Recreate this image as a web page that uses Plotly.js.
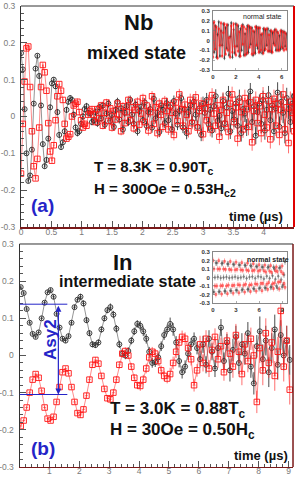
<!DOCTYPE html>
<html><head><meta charset="utf-8">
<script src="https://cdn.plot.ly/plotly-3.0.1.min.js"></script>
<style>html,body{margin:0;padding:0;background:#fff}#chart{width:300px;height:477px}</style>
</head><body><div id="chart"></div>
<script>
// ---------- Panel (a): Nb mixed state, asymmetry vs time (bins of 0.03 us from 0) ----------
const nbT0 = 0, nbBin = 0.03;
const nbBlack = [
 0.172,0.128,0.02,-0.1,-0.175,-0.16,-0.09,0.035,0.13,0.165,
 0.11,0.03,-0.075,-0.135,-0.118,-0.06,0.025,0.09,0.1,0.082,
 0.012,-0.05,-0.083,-0.07,-0.04,0.018,0.04,0.05,0.045,0.005,
 -0.03,-0.045,-0.04,-0.02,0.0,0.02,0.028,0.01,0.008,-0.015,
 -0.01,
 0.012,-0.018,0.025,-0.005,0.03,-0.022,0.008,0.035,-0.012,0.004,
 -0.028,0.018,0.04,-0.008,0.022,-0.035,0.01,0.028,-0.015,0.045,
 0.005,-0.02,0.032,-0.04,0.015,0.026,-0.01,0.038,-0.025,0.012,
 0.02,-0.03,0.048,-0.005,0.01,-0.042,0.03,0.018,-0.018,0.036,
 -0.01,0.025,-0.035,0.042,0.008,-0.022,0.015,0.05,-0.03,0.02,
 -0.045,0.012,0.03,-0.015,0.04,0.005,-0.028,0.022,-0.05,0.035,
 0.01,0.045,-0.02,0.018,-0.038,0.028,0.055,-0.012,0.002,-0.032,
 0.042,-0.018,0.025,0.062,-0.04,0.015,-0.008,0.035,-0.025,0.05,
 -0.045,0.02,0.008,-0.03,0.04,0.068,-0.015,0.028,-0.052,0.012,
 0.035,-0.02,0.045,-0.038,0.018,0.058,-0.01,0.03,-0.04,0.022,
 0.065,-0.028,0.04,0.01,-0.045,0.05,0.02,-0.015,0.035,0.055];
const nbRed = [
 -0.155,-0.02,0.095,0.185,0.19,0.08,-0.04,-0.135,-0.168,-0.115,
 -0.03,0.08,0.14,0.12,0.07,-0.018,-0.095,-0.12,-0.078,-0.01,
 0.055,0.088,0.07,0.045,-0.02,-0.06,-0.055,-0.048,0.0,0.03,
 0.035,0.04,0.012,-0.01,-0.03,-0.02,-0.025,0.005,0.015,0.02,
 0.005,
 -0.015,0.02,-0.005,0.03,-0.025,0.01,0.038,-0.012,0.022,-0.03,
 0.015,-0.008,0.035,0.005,-0.04,0.028,-0.018,0.012,0.045,-0.01,
 0.025,-0.032,0.018,0.04,-0.022,0.008,0.05,-0.015,0.03,-0.038,
 0.012,0.055,-0.02,0.025,-0.045,0.035,0.005,-0.028,0.042,0.015,
 -0.035,0.03,0.01,-0.05,0.038,-0.012,0.06,0.02,-0.025,0.032,
 0.005,-0.04,0.045,-0.018,0.028,0.052,-0.03,0.015,0.035,-0.048,
 0.022,-0.01,0.04,-0.035,0.058,0.008,-0.025,0.03,-0.055,0.018,
 0.045,-0.02,0.01,-0.042,0.035,0.06,-0.015,0.025,-0.06,0.04,
 0.012,-0.035,0.05,0.02,-0.028,0.038,-0.07,0.015,0.045,-0.018,
 0.028,-0.045,0.055,0.005,-0.03,0.042,-0.062,0.02,0.048,-0.025,
 0.035,-0.05,0.018,0.06,-0.035,0.025,-0.072,0.04,0.01,-0.04];
const nbErr = [
 0.006,0.006,0.006,0.006,0.006,0.006,0.006,0.006,0.006,0.006,
 0.007,0.007,0.007,0.007,0.007,0.007,0.007,0.007,0.007,0.007,
 0.008,0.008,0.008,0.008,0.008,0.008,0.008,0.008,0.008,0.008,
 0.009,0.009,0.009,0.009,0.009,0.009,0.009,0.009,0.009,0.009,
 0.010,0.010,0.010,0.010,0.010,0.010,0.010,0.010,0.010,0.010,
 0.011,0.011,0.011,0.011,0.011,0.011,0.011,0.011,0.011,0.011,
 0.012,0.012,0.012,0.012,0.012,0.012,0.012,0.012,0.012,0.012,
 0.014,0.014,0.014,0.014,0.014,0.014,0.014,0.014,0.014,0.014,
 0.015,0.015,0.015,0.015,0.015,0.015,0.015,0.015,0.015,0.015,
 0.017,0.017,0.017,0.017,0.017,0.017,0.017,0.017,0.017,0.017,
 0.019,0.019,0.019,0.019,0.019,0.019,0.019,0.019,0.019,0.019,
 0.021,0.021,0.021,0.021,0.021,0.021,0.021,0.021,0.021,0.021,
 0.023,0.023,0.023,0.023,0.023,0.023,0.023,0.023,0.023,0.023,
 0.025,0.025,0.025,0.025,0.025,0.025,0.025,0.025,0.025,0.025,
 0.028,0.028,0.028,0.028,0.028,0.028,0.028,0.028,0.028,0.028,0.028];

// ---------- Panel (b): In intermediate state (bins of 0.1 us from 0.04) ----------
const inT0 = 0.04, inBin = 0.1;
const inBlack = [
 0.184,0.168,0.125,0.088,0.058,0.05,0.062,0.1,0.142,0.17,
 0.176,0.158,0.112,0.075,0.045,0.04,0.052,0.088,0.13,0.15,
 0.158,0.14,0.095,0.06,0.03,0.028,0.035,0.07,0.1,0.122,
 0.13,0.11,0.072,0.03,0.005,0.0,0.012,0.04,0.065,0.085,
 0.08,0.065,0.045,0.01,-0.02,-0.018,-0.005,0.025,0.055,0.07,
 0.085,0.07,0.035,-0.015,-0.045,-0.03,0.005,0.03,0.045,0.02,
 -0.01,0.03,-0.025,0.045,0.01,-0.035,0.02,0.075,-0.015,0.035,
 -0.04,0.015,0.05,-0.02,0.03,0.005,0.06,-0.03,-0.075,0.025,
 0.065,-0.01,0.04,-0.045,0.02,0.07,-0.025,0.055,0.0,0.04,-0.012];
const inRed = [
 -0.19,-0.175,-0.14,-0.1,-0.065,-0.05,-0.06,-0.095,-0.14,-0.17,
 -0.175,-0.165,-0.125,-0.085,-0.045,-0.035,-0.048,-0.085,-0.125,-0.155,
 -0.16,-0.145,-0.108,-0.065,-0.025,-0.012,-0.022,-0.055,-0.09,-0.115,
 -0.118,-0.1,-0.065,-0.025,0.005,0.012,0.0,-0.03,-0.06,-0.08,
 -0.082,-0.065,-0.035,-0.005,0.01,0.005,-0.015,-0.04,-0.055,-0.062,
 -0.05,-0.02,0.01,0.035,0.05,0.045,0.02,-0.01,-0.08,-0.04,
 0.03,-0.02,0.045,-0.035,0.015,0.05,-0.01,0.025,-0.045,0.04,
 0.005,-0.03,0.055,0.01,-0.05,0.03,-0.015,0.045,0.0,-0.125,
 0.02,-0.04,0.06,-0.02,0.035,-0.055,0.01,0.12,-0.03,0.04,-0.092];
const inErr = [
 0.005,0.005,0.005,0.005,0.005,0.005,0.005,0.005,0.005,0.005,
 0.006,0.006,0.006,0.006,0.006,0.006,0.006,0.006,0.006,0.006,
 0.008,0.008,0.008,0.008,0.008,0.008,0.008,0.008,0.008,0.008,
 0.010,0.010,0.010,0.010,0.010,0.010,0.010,0.010,0.010,0.010,
 0.013,0.013,0.013,0.013,0.013,0.013,0.013,0.013,0.013,0.013,
 0.017,0.017,0.017,0.017,0.017,0.017,0.017,0.017,0.017,0.017,
 0.023,0.023,0.023,0.023,0.023,0.023,0.023,0.023,0.023,0.023,
 0.030,0.030,0.030,0.030,0.030,0.030,0.030,0.030,0.030,0.030,
 0.040,0.040,0.040,0.040,0.040,0.040,0.040,0.040,0.040,0.040,0.040];

// ---------- Inset (a): Nb normal state (bins 0.1 us) ----------
const nbNormT0 = 0, nbNormBin = 0.1, nbNormErr = 0.02;
const nbNormBlack = [
 0.18,-0.12,0.15,-0.17,0.06,0.19,-0.16,0.1,-0.05,0.17,
 -0.18,0.13,-0.08,0.16,-0.15,0.04,0.18,-0.17,0.11,-0.13,
 0.17,-0.06,0.15,-0.16,0.12,-0.1,0.16,-0.15,0.07,-0.14,
 0.15,-0.12,0.14,-0.04,0.13,-0.15,0.09,-0.13,0.14,-0.08,
 0.13,-0.12,0.06,-0.13,0.12,-0.1,0.11,-0.05,0.12,-0.11,
 0.1,-0.12,0.08,-0.03,0.11,-0.1,0.09,-0.1,0.05,-0.09,
 0.1,-0.08,0.09,-0.06,0.07,-0.09];
const nbNormRed = [
 -0.17,0.19,-0.09,0.14,-0.18,0.12,-0.05,0.18,-0.16,0.08,
 0.17,-0.14,0.16,-0.1,0.03,-0.17,0.15,-0.12,0.17,-0.06,
 -0.15,0.16,-0.11,0.09,-0.16,0.15,-0.04,0.14,-0.15,0.12,
 -0.13,0.15,-0.07,0.13,-0.14,0.1,-0.13,0.14,-0.05,0.13,
 -0.12,0.13,-0.1,0.07,-0.13,0.12,-0.09,0.12,-0.11,0.06,
 -0.11,0.1,-0.12,0.09,-0.05,0.11,-0.1,0.08,-0.1,0.1,
 -0.07,0.09,-0.1,0.08,-0.09,0.06];

// ---------- Inset (b): In normal state (bins 0.125 us) ----------
const inNormT0 = 0, inNormBin = 0.125, inNormErr = 0.035;
const inNormRed = [
 0.2,0.1,-0.1,-0.2,-0.1,0.1,
 0.198,0.1,-0.098,-0.195,-0.095,0.1,
 0.19,0.095,-0.1,-0.19,-0.09,0.095,
 0.188,0.09,-0.095,-0.185,-0.092,0.09,
 0.18,0.095,-0.085,-0.18,-0.09,0.09,
 0.175,0.085,-0.09,-0.172,-0.08,0.088,
 0.17,0.08,-0.09,-0.165,-0.085,0.08,
 0.162,0.085,-0.075,-0.16,-0.08,0.075,
 0.15,0.085,-0.07,-0.155,-0.07,0.08,
 0.145,0.065,-0.08,-0.14,-0.06,0.075,
 0.14,0.06,-0.075,-0.13,-0.065,0.08,
 0.125,0.07,-0.055,-0.135,-0.05,0.07,
 0.135,0.045,-0.07,-0.115];
const inNormBlack = [
 -0.17,-0.17,0.0,0.172,0.17,0.005,
 -0.168,-0.165,-0.005,0.165,0.168,0.0,
 -0.16,-0.162,0.005,0.16,0.158,-0.005,
 -0.155,-0.158,0.0,0.155,0.152,0.008,
 -0.15,-0.152,-0.005,0.15,0.145,0.0,
 -0.148,-0.14,0.01,0.145,0.14,-0.01,
 -0.14,-0.138,0.005,0.14,0.132,0.01,
 -0.13,-0.135,-0.01,0.13,0.128,0.012,
 -0.13,-0.12,0.005,0.125,0.12,-0.015,
 -0.12,-0.125,0.015,0.118,0.125,-0.01,
 -0.115,-0.11,0.02,0.12,0.105,-0.02,
 -0.1,-0.12,0.015,0.11,0.118,-0.025,
 -0.11,-0.09,0.03,0.185];

// ---------- Axis tick labels ----------
const yTickVals = [-0.3,-0.2,-0.1,0,0.1,0.2,0.3];
const yTickText = ['-0.3','-0.2','-0.1','0','0.1','0.2','0.3'];
const xTickValsA = [0,0.5,1,1.5,2,2.5,3,3.5,4,4.5];
const xTickTextA = ['0','0.5','1','1.5','2','2.5','3','3.5','4','4.5'];
const xTickValsB = [1,2,3,4,5,6,7,8,9];
const xTickTextB = ['1','2','3','4','5','6','7','8','9'];
const xTickValsIA = [0,2,4,6];
const xTickValsIB = [0,3,6,9];

// Asy2 marker levels in panel (b)
const asyLevels = [0.138, -0.105];
const asyLineEnd = 1.6;
const asyArrowX = 1.3;

// ---------- Build ----------
const FONT = 'Liberation Sans, Arial, sans-serif';
const BLACK = '#2a2a2a', RED = '#ff1414', BLUE = '#2424c8';

function series(y, x0, dx, err, color, errColor, symbol, size, xa, ya, lw, mlw) {
  return {
    type: 'scatter', mode: lw > 0 ? 'lines+markers' : 'markers', x0: x0, dx: dx, y: y,
    xaxis: xa, yaxis: ya, hoverinfo: 'skip',
    line: {color: color, width: lw},
    marker: {symbol: symbol, size: size, color: color, line: {width: mlw, color: color}},
    error_y: Array.isArray(err)
      ? {type: 'data', array: err, color: errColor, thickness: 1, width: 0}
      : {type: 'constant', value: err, color: errColor, thickness: 0.7, width: 0},
    error_x: {type: 'constant', value: dx / 2, color: errColor, thickness: 0.8, width: 0}
  };
}

const data = [
  series(nbBlack, nbT0, nbBin, nbErr, BLACK, 'rgba(30,30,30,0.8)', 'circle-open', 5, 'x', 'y', 0.5, 0.9),
  series(nbRed, nbT0, nbBin, nbErr, RED, 'rgba(255,50,50,0.7)', 'square-open', 5.5, 'x', 'y', 0.5, 0.9),
  series(inBlack, inT0, inBin, inErr, BLACK, 'rgba(30,30,30,0.8)', 'circle-open', 5, 'x2', 'y2', 0.5, 0.9),
  series(inRed, inT0, inBin, inErr, RED, 'rgba(255,50,50,0.7)', 'square-open', 5.5, 'x2', 'y2', 0.5, 0.9),
  series(nbNormBlack, nbNormT0, nbNormBin, nbNormErr, '#333', 'rgba(40,40,40,0.7)', 'circle-open', 1.5, 'x3', 'y3', 0.6, 0.5),
  series(nbNormRed, nbNormT0, nbNormBin, nbNormErr, RED, 'rgba(255,40,40,0.7)', 'square-open', 1.5, 'x3', 'y3', 0.6, 0.5),
  series(inNormBlack, inNormT0, inNormBin, inNormErr, '#444', 'rgba(60,60,60,0.6)', 'circle-open', 1.8, 'x4', 'y4', 0, 0.5),
  series(inNormRed, inNormT0, inNormBin, inNormErr, RED, 'rgba(255,60,60,0.65)', 'square-open', 1.8, 'x4', 'y4', 0, 0.5)
];

const tickFont = {family: FONT, size: 8.5, color: '#7a7a7a'};
const insetFont = {family: FONT, size: 6, color: '#333', weight: 'bold'};
function mainAx(extra) {
  return Object.assign({showgrid: false, zeroline: false, showline: true, ticks: 'inside',
    ticklen: 6, tickwidth: 1, tickcolor: '#555', linecolor: '#333', linewidth: 1,
    tickfont: tickFont, tickmode: 'array', fixedrange: true, ticklabelstandoff: 1}, extra);
}
function insetAx(extra) {
  return Object.assign({showgrid: false, zeroline: false, showline: true, mirror: true, ticks: 'inside',
    ticklen: 2, tickwidth: 0.6, tickcolor: '#777', linecolor: '#888', linewidth: 1,
    tickfont: insetFont, tickmode: 'array', fixedrange: true, ticklabelstandoff: 1}, extra);
}
// paper position from pixel position, with explicit anchors
const P = (px, py, xa) => ({x: px / 300, y: 1 - py / 477, xref: 'paper', yref: 'paper',
  xanchor: xa || 'center', yanchor: 'middle', showarrow: false});
const tf = (size, color, bold) => ({family: FONT, size: size, color: color, weight: bold ? 'bold' : 'normal'});

const layout = {
  width: 300, height: 477, margin: {l: 0, r: 0, t: 0, b: 0},
  paper_bgcolor: '#fff', plot_bgcolor: '#fff', showlegend: false,
  xaxis: mainAx({domain: [0.07, 0.98], range: [0, 4.5], anchor: 'y', tickvals: xTickValsA, ticktext: xTickTextA, ticklabelstandoff: -4,
    minor: {dtick: 0.1, tick0: 0, ticks: 'inside', ticklen: 3, tickcolor: '#555'}, linecolor: '#7a1818', linewidth: 1.5}),
  yaxis: mainAx({domain: [0.5241, 0.9874], range: [-0.3, 0.3], anchor: 'x', tickvals: yTickVals, ticktext: yTickText, ticklabelstandoff: 3,
    minor: {dtick: 0.02, tick0: 0, ticks: 'inside', ticklen: 3, tickcolor: '#555'}}),
  xaxis2: mainAx({domain: [0.065, 0.9767], range: [0, 9.15], anchor: 'y2', tickvals: xTickValsB, ticktext: xTickTextB, ticklabelstandoff: -5,
    minor: {dtick: 0.2, tick0: 0, ticks: 'inside', ticklen: 3, tickcolor: '#555'}, linecolor: '#7a1818', linewidth: 1.5}),
  yaxis2: mainAx({domain: [0.021, 0.4885], range: [-0.3, 0.3], anchor: 'x2', tickvals: yTickVals, ticktext: yTickText, ticklabelstandoff: 3,
    minor: {dtick: 0.02, tick0: 0, ticks: 'inside', ticklen: 3, tickcolor: '#555'}}),
  xaxis3: insetAx({domain: [0.71, 0.958], range: [0, 6.5], anchor: 'y3', tickvals: xTickValsIA, ticktext: xTickValsIA.map(String)}),
  yaxis3: insetAx({domain: [0.8532, 0.9769], range: [-0.3, 0.3], anchor: 'x3', tickvals: yTickVals, ticktext: yTickText}),
  xaxis4: insetAx({domain: [0.71, 0.957], range: [0, 9.65], anchor: 'y4', tickvals: xTickValsIB, ticktext: xTickValsIB.map(String)}),
  yaxis4: insetAx({domain: [0.3648, 0.4717], range: [-0.3, 0.3], anchor: 'x4', tickvals: yTickVals, ticktext: yTickText}),
  shapes: [
    {type: 'line', xref: 'x domain', yref: 'y domain', x0: 0, x1: 1, y0: 1, y1: 1, line: {color: '#333', width: 1}},
    {type: 'line', xref: 'x domain', yref: 'y domain', x0: 1, x1: 1, y0: 0, y1: 1, line: {color: '#e00000', width: 2}},
    {type: 'line', xref: 'x2 domain', yref: 'y2 domain', x0: 0, x1: 1, y0: 1, y1: 1, line: {color: '#333', width: 1}},
    {type: 'line', xref: 'x2 domain', yref: 'y2 domain', x0: 1, x1: 1, y0: 0, y1: 1, line: {color: '#7a1818', width: 1.5}},
    {type: 'line', xref: 'x2', yref: 'y2', x0: 0, x1: asyLineEnd, y0: asyLevels[0], y1: asyLevels[0], line: {color: BLUE, width: 1}},
    {type: 'line', xref: 'x2', yref: 'y2', x0: 0, x1: asyLineEnd, y0: asyLevels[1], y1: asyLevels[1], line: {color: BLUE, width: 1}}
  ],
  annotations: [
    Object.assign(P(138, 23), {text: 'Nb', font: tf(22, '#111', true)}),
    Object.assign(P(136, 53), {text: 'mixed state', font: tf(18, '#111', true)}),
    Object.assign(P(92, 168, 'left'), {text: 'T = 8.3K = 0.90T<sub>c</sub>', font: tf(15, '#111', true)}),
    Object.assign(P(92, 189, 'left'), {text: 'H = 300Oe = 0.53H<sub>c2</sub>', font: tf(15, '#111', true)}),
    Object.assign(P(42, 205), {text: '(a)', font: tf(19, BLUE, true)}),
    Object.assign(P(256, 216), {text: 'time (µs)', font: tf(13, '#111', true)}),
    Object.assign(P(123, 262), {text: 'In', font: tf(22, '#111', true)}),
    Object.assign(P(127, 281), {text: 'intermediate state', font: tf(16, '#111', true)}),
    Object.assign(P(108, 410, 'left'), {text: 'T = 3.0K = 0.88T<sub>c</sub>', font: tf(17, '#111', true)}),
    Object.assign(P(108, 431, 'left'), {text: 'H = 30Oe = 0.50H<sub>c</sub>', font: tf(17, '#111', true)}),
    Object.assign(P(43, 448), {text: '(b)', font: tf(19, BLUE, true)}),
    Object.assign(P(261, 455), {text: 'time (µs)', font: tf(13, '#111', true)}),
    Object.assign(P(50, 340), {text: 'Asy2', textangle: -90, font: tf(17, BLUE, true)}),
    {xref: 'x2', yref: 'y2', axref: 'x2', ayref: 'y2', x: asyArrowX, y: asyLevels[1], ax: asyArrowX, ay: asyLevels[0],
      text: '', showarrow: true, arrowhead: 2, startarrowhead: 2, arrowside: 'end+start', arrowsize: 1, arrowwidth: 1.2, arrowcolor: BLUE},
    Object.assign(P(262, 16), {text: 'normal state', font: tf(7, '#222', false)}),
    Object.assign(P(268, 259), {text: 'normal state', font: tf(7, '#222', true)})
  ]
};

Plotly.newPlot('chart', data, layout, {staticPlot: true, displayModeBar: false});
</script></body></html>
